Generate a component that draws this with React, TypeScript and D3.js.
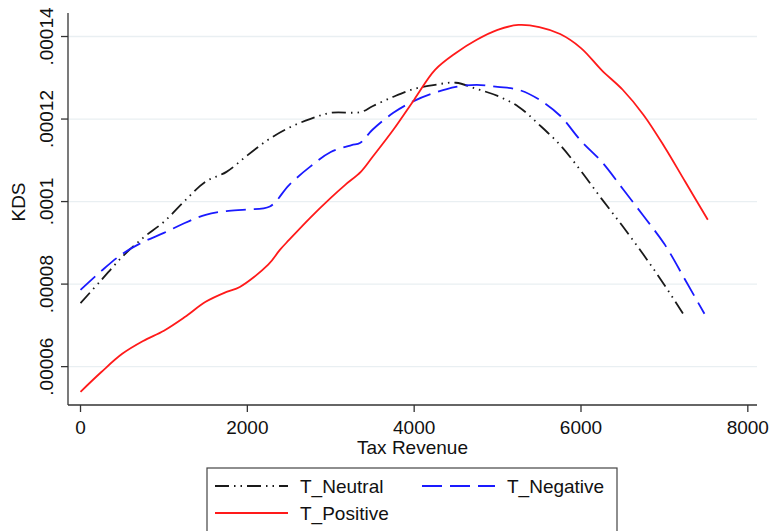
import React from "react";
import * as d3 from "d3";

const xNeutral = [0, 250, 500, 750, 1000, 1250, 1500, 1750, 2000, 2250, 2500, 2750, 3000, 3360, 3500, 3750, 4000, 4250, 4500, 4750, 5000, 5250, 5500, 5750, 6000, 6250, 6500, 6750, 7000, 7250];
const yNeutral = [75.4, 81.0, 86.6, 91.2, 95.1, 100.2, 104.8, 107.2, 111.2, 115.0, 117.9, 120.0, 121.5, 121.7, 123.1, 125.4, 127.3, 128.3, 128.8, 127.3, 125.6, 123.0, 118.6, 113.7, 107.4, 100.6, 94.0, 87.1, 79.8, 72.0];

const xNegative = [0, 250, 500, 750, 1000, 1250, 1500, 1750, 2000, 2270, 2500, 2750, 3000, 3250, 3350, 3500, 3750, 4000, 4250, 4500, 4750, 5000, 5250, 5500, 5750, 6000, 6250, 6500, 6750, 7000, 7250, 7480];
const yNegative = [78.6, 83.2, 87.3, 90.2, 92.4, 94.8, 96.8, 97.7, 98.1, 98.8, 104.0, 108.4, 112.0, 113.7, 114.2, 117.4, 121.5, 124.4, 126.4, 127.8, 128.3, 127.8, 127.1, 124.7, 120.8, 114.7, 109.6, 103.1, 96.5, 89.7, 81.0, 72.8];

const xPositive = [0, 250, 500, 750, 1000, 1250, 1500, 1750, 1910, 2250, 2390, 2500, 2750, 3000, 3170, 3360, 3500, 3750, 4000, 4250, 4500, 4750, 5000, 5250, 5500, 5750, 6000, 6250, 6500, 6750, 7000, 7250, 7520];
const yPositive = [53.9, 58.7, 63.1, 66.2, 68.7, 72.0, 75.7, 78.1, 79.3, 84.7, 88.3, 90.7, 96.0, 100.9, 104.0, 107.2, 110.8, 117.4, 124.7, 131.9, 136.0, 139.2, 141.6, 142.8, 142.3, 140.6, 137.2, 131.8, 127.1, 121.0, 113.3, 104.8, 95.6];

// y values above are in units of 1e-6
const yUnit = 1e-6;

const xTicks = [0, 2000, 4000, 6000, 8000];
const yTicks = [0.00006, 0.00008, 0.0001, 0.00012, 0.00014];
const yTickLabels = [".00006", ".00008", ".0001", ".00012", ".00014"];

const seriesNames = ["T_Neutral", "T_Negative", "T_Positive"];

const FONT = "Liberation Sans, Arial, sans-serif";

export default function App() {
  const left = 68, right = 757, top = 13, bottom = 405;
  const x = d3.scaleLinear().domain([-150, 8110]).range([left, right]);
  const y = d3.scaleLinear().domain([0.0000507, 0.0001457]).range([bottom, top]);

  const line = d3
    .line<[number, number]>()
    .x((d) => x(d[0]))
    .y((d) => y(d[1] * yUnit))
    .curve(d3.curveCatmullRom.alpha(0.5));

  const zip = (xs: number[], ys: number[]) => xs.map((v, i) => [v, ys[i]] as [number, number]);

  const series = [
    { name: seriesNames[0], d: line(zip(xNeutral, yNeutral)) || "", color: "#1a1a1a", dash: "14,5,1.5,5,1.5,5" },
    { name: seriesNames[1], d: line(zip(xNegative, yNegative)) || "", color: "#1a1aff", dash: "20,8" },
    { name: seriesNames[2], d: line(zip(xPositive, yPositive)) || "", color: "#ff1a1a", dash: "" },
  ];

  return (
    <svg
      width={770}
      height={531}
      style={{ position: "absolute", left: 0, top: 0, background: "#fff" }}
      fontFamily={FONT}
    >
      <rect x={0} y={0} width={770} height={531} fill="#fff" />
      {yTicks.map((t) => (
        <line key={"g" + t} x1={left} x2={right} y1={y(t)} y2={y(t)} stroke="#e9eff2" strokeWidth={1.3} />
      ))}
      {series.map((s) => (
        <path
          key={s.name}
          d={s.d}
          fill="none"
          stroke={s.color}
          strokeWidth={1.8}
          strokeDasharray={s.dash || undefined}
          strokeLinejoin="round"
        />
      ))}
      <line x1={left} x2={left} y1={top} y2={bottom} stroke="#333" strokeWidth={1.3} />
      {yTicks.map((t, i) => (
        <g key={"yt" + t}>
          <line x1={left - 7} x2={left} y1={y(t)} y2={y(t)} stroke="#333" strokeWidth={1.3} />
          <text
            transform={`translate(53,${y(t)}) rotate(-90)`}
            textAnchor="middle"
            fontSize={19}
            fill="#111"
          >
            {yTickLabels[i]}
          </text>
        </g>
      ))}
      <text transform={`translate(25,202) rotate(-90)`} textAnchor="middle" fontSize={19} fill="#111">
        KDS
      </text>
      <line x1={left} x2={right} y1={bottom} y2={bottom} stroke="#333" strokeWidth={1.3} />
      {xTicks.map((t) => (
        <g key={"xt" + t}>
          <line x1={x(t)} x2={x(t)} y1={bottom} y2={bottom + 7} stroke="#333" strokeWidth={1.3} />
          <text x={x(t)} y={434} textAnchor="middle" fontSize={19} fill="#111">
            {t}
          </text>
        </g>
      ))}
      <text x={(left + right) / 2} y={454} textAnchor="middle" fontSize={19} fill="#111">
        Tax Revenue
      </text>
      <rect x={207} y={468} width={410} height={80} fill="#fff" stroke="#444" strokeWidth={1.2} />
      {[
        { s: series[0], lx: 215, ty: 486 },
        { s: series[1], lx: 422, ty: 486 },
        { s: series[2], lx: 215, ty: 513 },
      ].map(({ s, lx, ty }) => (
        <g key={"lg" + s.name}>
          <line
            x1={lx}
            x2={lx + 73}
            y1={ty}
            y2={ty}
            stroke={s.color}
            strokeWidth={1.8}
            strokeDasharray={s.dash || undefined}
          />
          <text x={lx + 85} y={ty + 7} fontSize={19} fill="#111">
            {s.name}
          </text>
        </g>
      ))}
    </svg>
  );
}
